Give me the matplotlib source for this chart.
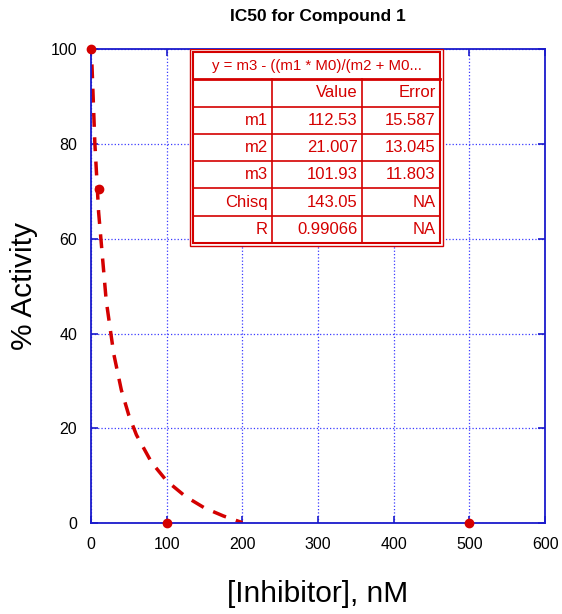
import matplotlib.pyplot as plt
from matplotlib.patches import Rectangle

plt.rcParams['font.family'] = ['Liberation Sans', 'DejaVu Sans']

# measured points
conc = [0, 10, 100, 500]
activity = [100, 70.5, 0, 0]

# fitted curve
fit_x = [0, 5, 10, 20, 30, 40, 50, 60, 80, 100, 125, 150, 175, 200]
fit_y = [101.9, 80.3, 65.6, 47.0, 35.7, 28.1, 22.7, 18.6, 12.8, 8.9, 5.6, 3.2, 1.5, 0.1]

# fit results table
equation = "y = m3 - ((m1 * M0)/(m2 + M0..."
col_heads = ["", "Value", "Error"]
row_names = ["m1", "m2", "m3", "Chisq", "R"]
values = ["112.53", "21.007", "101.93", "143.05", "0.99066"]
errors = ["15.587", "13.045", "11.803", "NA", "NA"]

red = '#d40000'
blue = '#1a1acc'

fig = plt.figure(figsize=(5.62, 6.14), dpi=100)
ax = fig.add_axes([0.162, 0.148, 0.808, 0.772])

ax.plot(fit_x, fit_y, '--', color=red, lw=2.5, dashes=(4, 3))
ax.plot(conc, activity, 'o', color=red, ms=6, clip_on=False, zorder=5)

ax.set_xlim(0, 600)
ax.set_ylim(0, 100)
ax.set_xticks(range(0, 601, 100))
ax.set_yticks(range(0, 101, 20))
ax.grid(True, color='#3a3aff', ls=':', lw=0.9)
for s in ax.spines.values():
    s.set_color(blue)
    s.set_linewidth(1.3)
ax.tick_params(direction='in', length=5, color=blue, width=1.2,
               top=True, right=True, labelsize=11.5, pad=10)

ax.set_title("IC50 for Compound 1", fontsize=12.5, fontweight='bold', pad=20)
ax.set_xlabel("[Inhibitor], nM", fontsize=21.5, labelpad=20)
ax.set_ylabel("% Activity", fontsize=21.5, labelpad=9)

# table box in axes coords
x0, x1 = 0.225, 0.769
ytop, ybot = 0.994, 0.591
cols = [x0, 0.399, 0.597, x1]
nrows = 1 + 1 + len(row_names)
rh = (ytop - ybot) / nrows
tb = dict(transform=ax.transAxes, zorder=10)
ax.add_patch(Rectangle((x0 - 0.006, ybot - 0.006), x1 - x0 + 0.012, ytop - ybot + 0.012,
                       facecolor='white', edgecolor=red, lw=1, **tb))
ax.add_patch(Rectangle((x0, ybot), x1 - x0, ytop - ybot,
                       facecolor='white', edgecolor=red, lw=1.5, **tb))
for i in range(1, nrows):
    y = ytop - i * rh
    ax.plot([x0, x1], [y, y], color=red, lw=2 if i == 1 else 1.2, **tb)
for c in cols[1:-1]:
    ax.plot([c, c], [ybot, ytop - rh], color=red, lw=1.2, **tb)

ax.text((x0 + x1) / 2, ytop - rh / 2, equation, color=red, fontsize=10.8,
        ha='center', va='center', **tb)
rows = [col_heads] + [[n, v, e] for n, v, e in zip(row_names, values, errors)]
for i, row in enumerate(rows):
    y = ytop - (i + 1.5) * rh
    for j, txt in enumerate(row):
        ax.text(cols[j + 1] - 0.01, y, txt, color=red, fontsize=12,
                ha='right', va='center', **tb)

fig.savefig('out.png', dpi=100)
